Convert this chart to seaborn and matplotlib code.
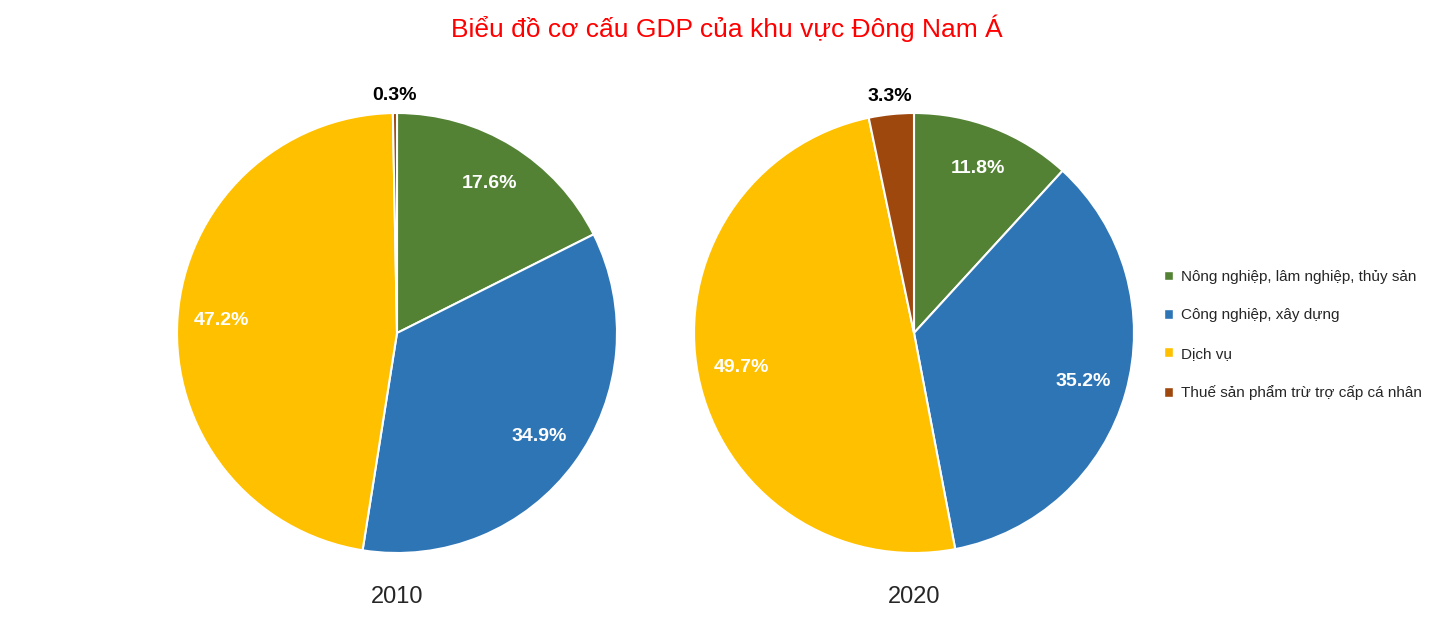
import matplotlib.pyplot as plt
from matplotlib.patches import Patch
import seaborn as sns

sectors = ["Nông nghiệp, lâm nghiệp, thủy sản", "Công nghiệp, xây dựng",
           "Dịch vụ", "Thuế sản phẩm trừ trợ cấp cá nhân"]
years = ["2010", "2020"]
share_2010 = [17.6, 34.9, 47.2, 0.3]
share_2020 = [11.8, 35.2, 49.7, 3.3]
colors = ["#548235", "#2E75B6", "#FFC000", "#9E480E"]

sns.set_theme(style="white")
plt.rcParams['font.family'] = ['Liberation Sans', 'DejaVu Sans']

fig = plt.figure(figsize=(14.53, 6.32), dpi=100)
fig.text(0.5, 0.955, "Biểu đồ cơ cấu GDP của khu vực Đông Nam Á", color="#FF0000",
         fontsize=19, ha="center", va="center")

centers = [397 / 1453, 914 / 1453]
w = 440 / 1453
h = 440 / 632
yc = 1 - 333 / 632

for cx, year, vals in zip(centers, years, [share_2010, share_2020]):
    ax = fig.add_axes([cx - w / 2, yc - h / 2, w, h])
    wedges, _ = ax.pie(vals, colors=colors, startangle=90, counterclock=False,
                       wedgeprops=dict(edgecolor="white", linewidth=1.5))
    import numpy as np
    for wdg, v in zip(wedges, vals):
        ang = np.deg2rad((wdg.theta1 + wdg.theta2) / 2)
        if v < 5:
            r, col = 1.08, "black"
        else:
            r, col = 0.8, "white"
        ax.text(r * np.cos(ang), r * np.sin(ang), f"{v:.1f}%", color=col,
                fontsize=14, fontweight="bold", ha="center", va="center")
    ax.set_aspect("equal")
    ax.set_xlim(-1, 1)
    ax.set_ylim(-1, 1)
    fig.text(cx, 1 - 597 / 632, year, fontsize=17, ha="center", va="center")

handles = [Patch(facecolor=c, label=s) for c, s in zip(colors, sectors)]
fig.legend(handles=handles, loc="center left", bbox_to_anchor=(1150 / 1453, 1 - 335 / 632),
           frameon=False, fontsize=11, handlelength=0.6, handleheight=0.6,
           handletextpad=0.5, labelspacing=1.6)

fig.savefig("out.png", dpi=100)
